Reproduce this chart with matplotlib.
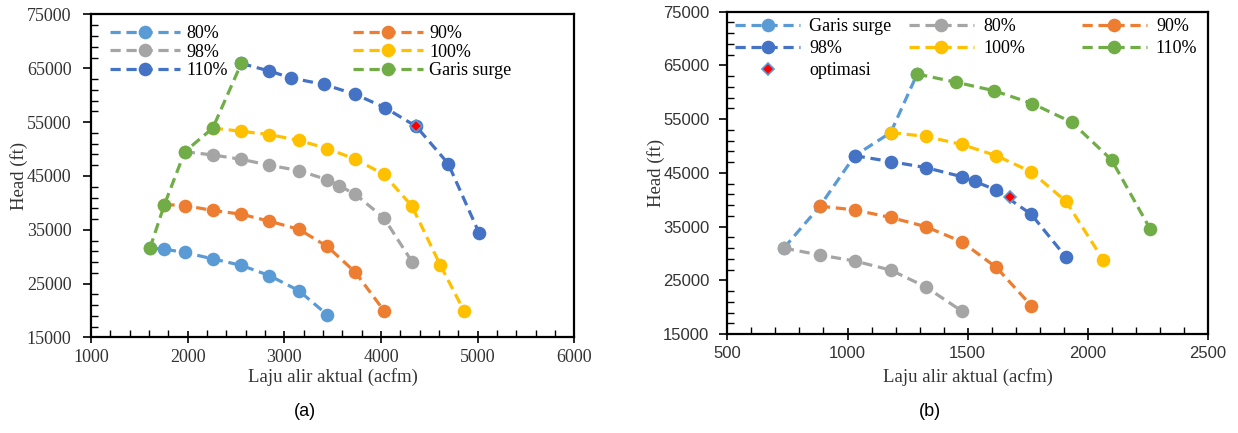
import numpy as np
import matplotlib.pyplot as plt
from matplotlib.ticker import MultipleLocator
from matplotlib.legend import Legend

plt.rcParams['font.family'] = ['Liberation Serif', 'DejaVu Serif']

# ---- (a) data: laju alir (acfm) vs head (ft) ----
a_q80 = [1610, 1760, 1970, 2260, 2555, 2845, 3150, 3445]
a_h80 = [31600, 31400, 30800, 29600, 28400, 26500, 23700, 19200]
a_q90 = [1760, 1970, 2260, 2555, 2845, 3150, 3445, 3735, 4030]
a_h90 = [39700, 39500, 38600, 37900, 36600, 35100, 31900, 27100, 20000]
a_q98 = [1970, 2260, 2555, 2845, 3150, 3445, 3565, 3735, 4030, 4320]
a_h98 = [49500, 48900, 48100, 47000, 46000, 44300, 43200, 41600, 37200, 29100]
a_q100 = [2260, 2555, 2845, 3150, 3445, 3735, 4030, 4320, 4615, 4860]
a_h100 = [53900, 53300, 52700, 51600, 50100, 48100, 45300, 39400, 28400, 19900]
a_q110 = [2555, 2845, 3070, 3410, 3730, 4040, 4365, 4695, 5015]
a_h110 = [65900, 64500, 63200, 62000, 60200, 57700, 54200, 47300, 34400]
a_qsurge = [1610, 1760, 1970, 2260, 2555]
a_hsurge = [31600, 39700, 49500, 53900, 65900]
a_qopt = [4365]
a_hopt = [54200]

# ---- (b) data ----
b_qsurge = [735, 885, 1030, 1180, 1290]
b_hsurge = [31000, 38800, 48200, 52500, 63400]
b_q80 = [735, 885, 1030, 1180, 1325, 1475]
b_h80 = [31000, 29700, 28600, 26900, 23800, 19300]
b_q90 = [885, 1030, 1180, 1325, 1475, 1620, 1765]
b_h90 = [38800, 38100, 36700, 35000, 32200, 27400, 20300]
b_q98 = [1030, 1180, 1325, 1475, 1530, 1620, 1765, 1910]
b_h98 = [48200, 47100, 46000, 44300, 43400, 41800, 37300, 29300]
b_q100 = [1180, 1325, 1475, 1620, 1765, 1910, 2065]
b_h100 = [52500, 51800, 50300, 48200, 45200, 39700, 28800]
b_q110 = [1290, 1450, 1610, 1770, 1935, 2100, 2260]
b_h110 = [63400, 61900, 60300, 57900, 54400, 47400, 34600]
b_qopt = [1675]
b_hopt = [40600]

c_lblue = '#5B9BD5'
c_orange = '#ED7D31'
c_gray = '#A5A5A5'
c_yellow = '#FFC000'
c_blue = '#4472C4'
c_green = '#70AD47'

line_kw = dict(ls=(0, (3.2, 1.8)), lw=2.3, marker='o', ms=9.8, mew=0)
opt_kw = dict(ls='none', marker='D', ms=6.5, color='red', mec=c_lblue, mew=1.2)

fig = plt.figure(figsize=(12.38, 4.33), dpi=100)
ax1 = fig.add_axes([0.0735, 0.2206, 0.3904, 0.746])
ax2 = fig.add_axes([0.5876, 0.2286, 0.3879, 0.7443])

# (a)
l80, = ax1.plot(a_q80, a_h80, color=c_lblue, label='80%', **line_kw)
l90, = ax1.plot(a_q90, a_h90, color=c_orange, label='90%', **line_kw)
l98, = ax1.plot(a_q98, a_h98, color=c_gray, label='98%', **line_kw)
l100, = ax1.plot(a_q100, a_h100, color=c_yellow, label='100%', **line_kw)
l110, = ax1.plot(a_q110, a_h110, color=c_blue, label='110%', **line_kw)
ls_, = ax1.plot(a_qsurge, a_hsurge, color=c_green, label='Garis surge', **line_kw)
ax1.plot(a_qopt, a_hopt, **opt_kw)

ax1.legend(handles=[l80, l98, l110, l90, l100, ls_], ncol=2, loc='upper left',
           bbox_to_anchor=(0.039, 0.967), frameon=False, fontsize=13,
           handlelength=3.9, handletextpad=0.35, columnspacing=6.9,
           labelspacing=0.08, borderpad=0, borderaxespad=0)

# (b)
m_s, = ax2.plot(b_qsurge, b_hsurge, color=c_lblue, label='Garis surge', **line_kw)
m80, = ax2.plot(b_q80, b_h80, color=c_gray, label='80%', **line_kw)
m90, = ax2.plot(b_q90, b_h90, color=c_orange, label='90%', **line_kw)
m98, = ax2.plot(b_q98, b_h98, color=c_blue, label='98%', **line_kw)
m100, = ax2.plot(b_q100, b_h100, color=c_yellow, label='100%', **line_kw)
m110, = ax2.plot(b_q110, b_h110, color=c_green, label='110%', **line_kw)
mopt, = ax2.plot(b_qopt, b_hopt, label='optimasi', **opt_kw)

# legend kolom sama lebar -> tiga legend terpisah
cols = [[m_s, m98, mopt], [m80, m100], [m90, m110]]
xs = [0.016, 0.378, 0.738]
for hs, x0 in zip(cols, xs):
    leg = Legend(ax2, hs, [h.get_label() for h in hs], loc='upper left',
                 bbox_to_anchor=(x0, 0.98), frameon=False, fontsize=13,
                 handlelength=3.6, handletextpad=0.5, labelspacing=0.28,
                 borderpad=0, borderaxespad=0)
    ax2.add_artist(leg)

def style_axes(ax, xlo, xhi, xmaj, xmin, tfont, tsize, ypad):
    ax.set_xlim(xlo, xhi)
    ax.set_ylim(15000, 75000)
    ax.xaxis.set_major_locator(MultipleLocator(xmaj))
    ax.xaxis.set_minor_locator(MultipleLocator(xmin))
    ax.yaxis.set_major_locator(MultipleLocator(10000, offset=5000))
    ax.yaxis.set_minor_locator(MultipleLocator(2000, offset=1000))
    ax.tick_params(axis='x', which='major', direction='inout', length=9, width=1.2,
                   pad=4, labelsize=tsize, labelcolor='#333333')
    ax.tick_params(axis='y', which='major', direction='out', length=6, width=1.2,
                   pad=ypad, labelsize=tsize, labelcolor='#333333')
    ax.tick_params(which='minor', direction='in', length=5, width=1.0)
    for lab in ax.get_xticklabels() + ax.get_yticklabels():
        lab.set_fontfamily(tfont)
    for sp in ax.spines.values():
        sp.set_linewidth(1.6)
        sp.set_color('black')

style_axes(ax1, 1000, 6000, 1000, 200, 'Liberation Serif', 13, 8)
style_axes(ax2, 500, 2500, 500, 100, 'Liberation Sans', 12, 7)

for ax, ylx, xly in [(ax1, -0.13, -0.095), (ax2, -0.13, -0.105)]:
    ax.set_xlabel('Laju alir aktual (acfm)', fontsize=13.5, color='#333333')
    ax.set_ylabel('Head (ft)', fontsize=13.5, color='#333333')
    ax.xaxis.set_label_coords(0.5, xly)
    ax.yaxis.set_label_coords(ylx, 0.5)

fig.text(305 / 1238, 1 - 412 / 433, '(a)', ha='center', va='center',
         fontsize=13, family='Liberation Sans')
fig.text(930 / 1238, 1 - 412 / 433, '(b)', ha='center', va='center',
         fontsize=13, family='Liberation Sans')

plt.savefig('out.png', dpi=100)
